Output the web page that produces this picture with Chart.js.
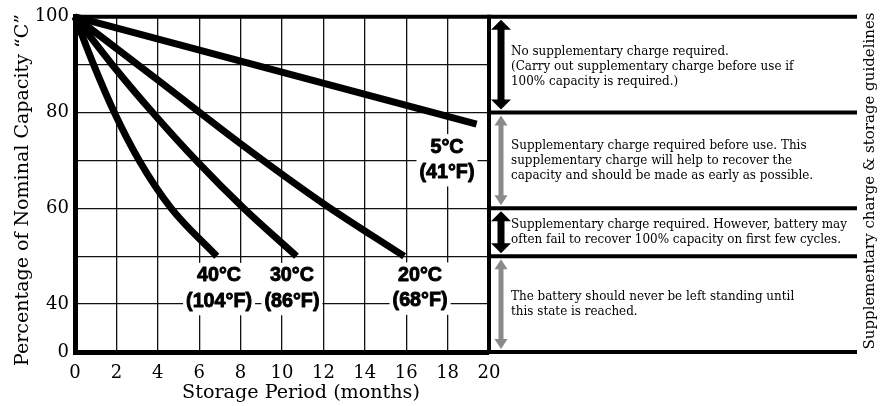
<!DOCTYPE html>
<html><head><meta charset="utf-8">
<script src="https://cdn.jsdelivr.net/npm/chart.js@4.4.1/dist/chart.umd.min.js"></script>
<style>html,body{margin:0;padding:0;background:#fff}#wrap{width:889px;height:406px;position:relative}</style>
</head><body><div id="wrap"><canvas id="c" width="889" height="406"></canvas></div>
<script>
// ---- data ----
const months40 = [0, 0.9, 1.9, 3.1, 4.65, 6.85];
const cap40    = [100, 90, 80, 70, 60, 50];
const months30 = [0, 1.8, 3.75, 5.85, 8.15, 10.7];
const cap30    = [100, 90, 80, 70, 60, 50];
const months20 = [0, 4, 8, 12, 15.9];
const cap20    = [100, 86.8, 73.5, 61, 50];
const months5  = [0, 19.4];
const cap5     = [100, 77.6];
const seriesLabels = [["40°C", "(104°F)"], ["30°C", "(86°F)"], ["20°C", "(68°F)"], ["5°C", "(41°F)"]];
const xTickValues = [0, 2, 4, 6, 8, 10, 12, 14, 16, 18, 20];
const yTickValues = [30, 40, 60, 80, 100];   // 0–40 span is compressed (axis break)
const yTickLabels = ["0", "40", "60", "80", "100"];
const bandLimits = [100, 80, 60, 50, 30];
const bandTexts = [
  ["No supplementary charge required.", "(Carry out supplementary charge before use if", "100% capacity is required.)"],
  ["Supplementary charge required before use. This", "supplementary charge will help to recover the", "capacity and should be made as early as possible."],
  ["Supplementary charge required. However, battery may", "often fail to recover 100% capacity on first few cycles."],
  ["The battery should never be left standing until", "this state is reached."]
];
const xTitle = "Storage Period (months)";
const yTitle = "Percentage of Nominal Capacity \u201CC\u201D";
const rightTitle = "Supplementary charge & storage guidelines";

// ---- layout / style (not data) ----
const labelAnchors = [[6.96, 46.1, 40.8], [10.48, 46.1, 40.8], [16.67, 46.2, 40.9], [17.97, 73.0, 67.7]];
const arrowStyles = [
  {c: '#000', sw: 7, hw: 20, hh: 10},
  {c: '#8a8a8a', sw: 5, hw: 13, hh: 10},
  {c: '#000', sw: 7, hw: 20, hh: 10},
  {c: '#8a8a8a', sw: 5, hw: 13, hh: 10}
];
const SERIF = '"DejaVu Serif", "Liberation Serif", serif';
const PANEL_END = 857;

function pts(xs, ys) { return xs.map((x, i) => ({x: x, y: ys[i]})); }
function mkSet(xs, ys) {
  return {data: pts(xs, ys), borderColor: '#000', borderWidth: 7, pointRadius: 0,
    cubicInterpolationMode: 'monotone', borderCapStyle: 'butt', borderJoinStyle: 'round', fill: false, clip: false};
}
function fitSize(ctx, text, family, weight, target) {
  ctx.font = weight + ' 100px ' + family;
  return 100 * target / ctx.measureText(text).width;
}

const deco = {
  id: 'deco',
  beforeDraw(chart) {
    const ctx = chart.ctx;
    ctx.save(); ctx.fillStyle = '#fff'; ctx.fillRect(0, 0, chart.width, chart.height); ctx.restore();
  },
  afterDatasetsDraw(chart) {
    const ctx = chart.ctx, xs = chart.scales.x, ys = chart.scales.y;
    const L = xs.left, R = xs.right, T = ys.top, B = ys.bottom;
    ctx.save();
    // temperature labels
    const lblFont = 'bold 20px "Liberation Sans", Arial, sans-serif';
    ctx.font = lblFont;
    const sx = 66 / ctx.measureText("(104°F)").width;
    seriesLabels.forEach((lines, i) => {
      const a = labelAnchors[i];
      const cx = xs.getPixelForValue(a[0]);
      const y1 = ys.getPixelForValue(a[1]), y2 = ys.getPixelForValue(a[2]);
      ctx.font = lblFont;
      const w = Math.max(...lines.map(t => ctx.measureText(t).width)) * sx;
      ctx.fillStyle = '#fff';
      ctx.fillRect(cx - w / 2 - 3, y1 - 12, w + 6, (y2 - y1) + 27);
      ctx.fillStyle = '#000'; ctx.strokeStyle = '#000'; ctx.lineWidth = 0.9; ctx.lineJoin = 'round';
      ctx.textAlign = 'center'; ctx.textBaseline = 'middle';
      [y1, y2].forEach((yy, k) => {
        ctx.save(); ctx.translate(cx, yy + 1); ctx.scale(sx, 1);
        ctx.fillText(lines[k], 0, 0); ctx.strokeText(lines[k], 0, 0); ctx.restore();
      });
    });
    // plot frame & panel lines
    ctx.strokeStyle = '#000'; ctx.lineCap = 'butt';
    ctx.lineWidth = 4;
    bandLimits.forEach(v => {
      const y = ys.getPixelForValue(v);
      ctx.beginPath();
      ctx.moveTo((v === 100 || v === 30) ? L - 2 : R, y);
      ctx.lineTo(PANEL_END, y); ctx.stroke();
    });
    ctx.beginPath(); ctx.moveTo(R, T - 2); ctx.lineTo(R, B + 2); ctx.stroke();
    // arrows
    const ax = R + 12;
    for (let i = 0; i < bandLimits.length - 1; i++) {
      const ya = ys.getPixelForValue(bandLimits[i]) + 3, yb = ys.getPixelForValue(bandLimits[i + 1]) - 3;
      const s = arrowStyles[i];
      ctx.fillStyle = s.c;
      ctx.fillRect(ax - s.sw / 2, ya + s.hh - 1, s.sw, (yb - ya) - 2 * s.hh + 2);
      ctx.beginPath(); ctx.moveTo(ax, ya); ctx.lineTo(ax + s.hw / 2, ya + s.hh); ctx.lineTo(ax - s.hw / 2, ya + s.hh); ctx.closePath(); ctx.fill();
      ctx.beginPath(); ctx.moveTo(ax, yb); ctx.lineTo(ax + s.hw / 2, yb - s.hh); ctx.lineTo(ax - s.hw / 2, yb - s.hh); ctx.closePath(); ctx.fill();
    }
    // band texts (condensed serif)
    const tFont = '13.4px ' + SERIF;
    ctx.font = tFont;
    const tsx = 336 / ctx.measureText(bandTexts[2][0]).width;
    ctx.fillStyle = '#000'; ctx.textAlign = 'left'; ctx.textBaseline = 'middle';
    const lh = 15;
    bandTexts.forEach((lines, i) => {
      const ya = ys.getPixelForValue(bandLimits[i]), yb = ys.getPixelForValue(bandLimits[i + 1]);
      const mid = (ya + yb) / 2 + (i === 0 ? 1.5 : 0);
      lines.forEach((t, k) => {
        ctx.save(); ctx.translate(R + 22, mid + (k - (lines.length - 1) / 2) * lh); ctx.scale(tsx, 1);
        ctx.fillText(t, 0, 0); ctx.restore();
      });
    });
    // titles
    ctx.textAlign = 'center'; ctx.textBaseline = 'middle';
    let s = fitSize(ctx, xTitle, SERIF, 'normal', 238);
    ctx.font = s + 'px ' + SERIF;
    ctx.fillText(xTitle, 301, 393);
    s = fitSize(ctx, yTitle, SERIF, 'normal', 352);
    ctx.font = s + 'px ' + SERIF;
    ctx.save(); ctx.translate(23, 190); ctx.rotate(-Math.PI / 2); ctx.fillText(yTitle, 0, 0); ctx.restore();
    s = fitSize(ctx, rightTitle, SERIF, 'normal', 337);
    ctx.font = s + 'px ' + SERIF;
    ctx.save(); ctx.translate(870, 181); ctx.rotate(-Math.PI / 2); ctx.fillText(rightTitle, 0, 0); ctx.restore();
    ctx.restore();
  }
};

new Chart(document.getElementById('c'), {
  type: 'line',
  data: {datasets: [mkSet(months40, cap40), mkSet(months30, cap30), mkSet(months20, cap20), mkSet(months5, cap5)]},
  options: {
    responsive: false, animation: false, devicePixelRatio: 1,
    layout: {padding: {left: 0, right: 400, top: 15, bottom: 0}},
    plugins: {legend: {display: false}, tooltip: {enabled: false}},
    scales: {
      x: {
        type: 'linear', min: 0, max: 20,
        afterBuildTicks: sc => { sc.ticks = xTickValues.map(v => ({value: v})); },
        afterFit: sc => { sc.height = 54; },
        ticks: {font: {family: SERIF, size: 18}, color: '#000', padding: 11, maxRotation: 0, autoSkip: false},
        grid: {color: '#111', lineWidth: c => (c.tick && (c.tick.value === 0 || c.tick.value === 20)) ? 0 : 1.3, drawTicks: false},
        border: {display: true, width: 5, color: '#000'}
      },
      y: {
        type: 'linear', min: 30, max: 100,
        ticks: {stepSize: 10, font: {family: SERIF, size: 18}, color: '#000', padding: 6,
          callback: v => { const i = yTickValues.indexOf(v); return i >= 0 ? yTickLabels[i] : ''; }},
        afterFit: sc => { sc.width = 75; },
        grid: {color: '#111', lineWidth: c => (c.tick && (c.tick.value === 30 || c.tick.value === 100)) ? 0 : 1.3, drawTicks: false},
        border: {display: true, width: 5, color: '#000'}
      }
    }
  },
  plugins: [deco]
});
</script></body></html>
